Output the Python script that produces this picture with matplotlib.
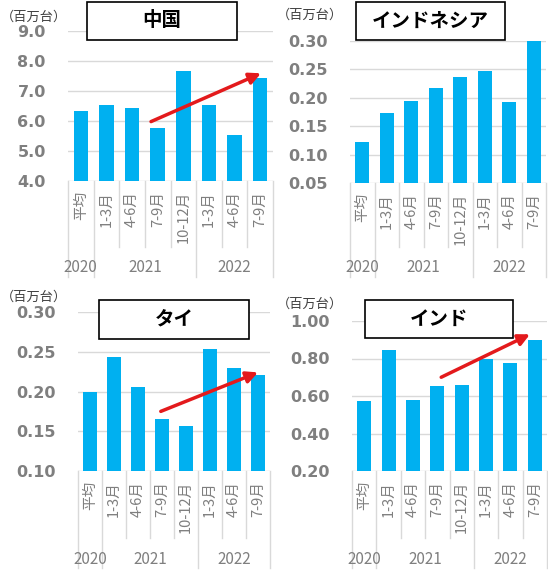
import matplotlib.pyplot as plt
import matplotlib.patches as patches
import matplotlib.transforms as mtrans
import numpy as np

plt.rcParams['font.family'] = ['Noto Sans CJK JP', 'DejaVu Sans']

months = ['平均', '1-3月', '4-6月', '7-9月', '10-12月', '1-3月', '4-6月', '7-9月']
years = ['2020', '2021', '2022']
year_pos = [0, 2.5, 6]
group_lines = [-0.5, 0.5, 4.5, 7.5]

china = [6.35, 6.52, 6.43, 5.77, 7.68, 6.53, 5.53, 7.43]
indonesia = [0.123, 0.174, 0.195, 0.217, 0.237, 0.247, 0.193, 0.300]
thailand = [0.200, 0.243, 0.206, 0.166, 0.157, 0.253, 0.230, 0.221]
india = [0.575, 0.847, 0.579, 0.655, 0.660, 0.796, 0.776, 0.899]

# trend arrows: (x0, y0) -> (x1, y1) in category / value units
china_arrow = [(2.74, 5.98), (7.03, 7.59)]
indonesia_arrow = [(3.0, 0.222), (6.66, 0.303)]
thailand_arrow = [(2.95, 0.175), (7.0, 0.224)]
india_arrow = [(3.16, 0.70), (6.8, 0.929)]

W, H = 548, 570
fig = plt.figure(figsize=(W / 100, H / 100), dpi=100)
fig.patch.set_facecolor('white')

BAR = '#00B0F0'
GRID = '#D9D9D9'
TICK = '#7F7F7F'


def panel(rect, vals, ticks, fmt, title, box, arrow, unit_xy, row_bottom):
    l, r, top, bot = rect
    ax = fig.add_axes([l / W, 1 - bot / H, (r - l) / W, (bot - top) / H])
    x = np.arange(len(vals))
    ax.bar(x, vals, width=0.57, color=BAR, zorder=2)
    ax.set_xlim(-0.5, 7.5)
    ax.set_ylim(ticks[0], ticks[-1])
    ax.set_yticks(ticks)
    ax.set_yticklabels([fmt % t for t in ticks], family='DejaVu Sans',
                       fontweight='bold', fontsize=11.5, color=TICK)
    ax.tick_params(axis='y', length=0, pad=16)
    ax.set_xticks([])
    for s in ax.spines.values():
        s.set_visible(False)
    for t in ticks:
        ax.axhline(t, color=GRID, lw=1, zorder=1)

    # category labels and separators below the plot area (pixel offsets)
    hpx = bot - top
    tr = mtrans.blended_transform_factory(ax.transData, ax.transAxes)
    for i, m in enumerate(months):
        ax.text(i, -10 / hpx, m, rotation=90, ha='center', va='top',
                fontsize=10.5, color=TICK, transform=tr)
    for xs in np.arange(-0.5, 8, 1.0):
        end = row_bottom if xs in group_lines else row_bottom - 30
        ax.plot([xs, xs], [0, -(end - bot) / hpx], color=GRID, lw=1,
                transform=tr, clip_on=False)
    for yp, yr in zip(year_pos, years):
        ax.text(yp, -(row_bottom - 9 - bot) / hpx, yr,
                ha='center', va='center', fontsize=11, color=TICK,
                transform=tr)

    ax.annotate('', xy=arrow[1], xytext=arrow[0],
                arrowprops=dict(arrowstyle='-|>', color='#E31A1C', lw=2.5,
                                mutation_scale=17, shrinkA=0, shrinkB=0),
                zorder=5)

    bx0, bx1, by0, by1 = box
    fig.patches.append(patches.Rectangle((bx0 / W, 1 - by1 / H), (bx1 - bx0) / W,
                                         (by1 - by0) / H, transform=fig.transFigure,
                                         facecolor='white', edgecolor='black',
                                         lw=1.2, zorder=10))
    fig.text((bx0 + bx1) / 2 / W, 1 - (by0 + by1) / 2 / H, title, ha='center',
             va='center', fontsize=14, fontweight='bold', color='black',
             zorder=11)
    fig.text(unit_xy[0] / W, 1 - unit_xy[1] / H, '（百万台）', ha='left',
             va='center', fontsize=9.5, color='#404040')
    return ax


panel((68, 273, 31, 181), china, [4.0, 5.0, 6.0, 7.0, 8.0, 9.0], '%.1f',
      '中国', (87, 237, 2, 40), china_arrow, (1, 17), 277)
panel((350, 546, 41, 183), indonesia, [0.05, 0.10, 0.15, 0.20, 0.25, 0.30], '%.2f',
      'インドネシア', (356, 505, 2, 40), indonesia_arrow, (277, 15), 277)
panel((78, 270, 312, 471), thailand, [0.10, 0.15, 0.20, 0.25, 0.30], '%.2f',
      'タイ', (99, 249, 300, 339), thailand_arrow, (1, 297), 568)
panel((352, 547, 321, 471), india, [0.20, 0.40, 0.60, 0.80, 1.00], '%.2f',
      'インド', (365, 513, 300, 338), india_arrow, (277, 304), 568)

fig.savefig('out.png', dpi=100, facecolor='white')
